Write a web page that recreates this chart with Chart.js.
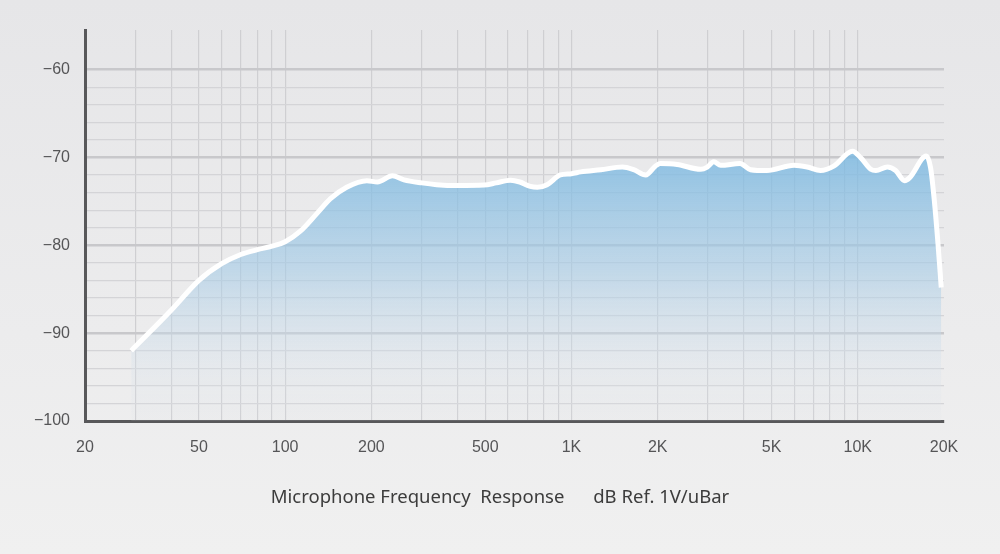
<!DOCTYPE html>
<html lang="en">
<head>
    <meta charset="UTF-8">
    <title>Microphone Frequency Response</title>
    <script src="https://cdn.jsdelivr.net/npm/chart.js"></script>
    <style>
        html, body {
            margin: 0;
            padding: 0;
        }
        body {
            width: 1000px;
            height: 554px;
            background: linear-gradient(180deg, #e6e6e8 0%, #ececed 60%, #f0f0f0 100%);
            overflow: hidden;
        }
        .wrap {
            position: relative;
            width: 1000px;
            height: 554px;
        }
        .caption {
            position: absolute;
            left: 0;
            width: 1000px;
            top: 483px;
            text-align: center;
            font-family: "Noto Sans", sans-serif;
            font-size: 18.5px;
            color: #3c3c3c;
            white-space: pre;
        }
    </style>
</head>
<body>
    <div class="wrap">
        <canvas id="freqChart"></canvas>
        <div class="caption">Microphone Frequency  Response      dB Ref. 1V/uBar</div>
    </div>

    <script>
        // frequency (Hz) and level (dB)
        const freqs = [29, 40, 50, 60, 70, 80, 90, 100, 113, 129, 144, 164, 193, 210, 237, 260,
            300, 338, 400, 495, 546, 612, 660, 718, 760, 822, 914, 1000, 1078, 1266, 1508, 1650,
            1817, 1962, 2040, 2340, 2824, 2980, 3140, 3320, 3880, 4220, 4810, 5990, 6660, 7410,
            8240, 9580, 10250, 11100, 11560, 12680, 13560, 14580, 15180, 17340, 17960, 18500,
            19050, 19560];
        const levels = [-92.0, -87.4, -84.0, -82.1, -81.05, -80.5, -80.1, -79.6, -78.4, -76.4,
            -74.7, -73.4, -72.65, -72.8, -72.1, -72.55, -72.9, -73.1, -73.2, -73.15, -72.9, -72.6,
            -72.8, -73.3, -73.4, -73.1, -72.0, -71.85, -71.65, -71.4, -71.1, -71.4, -72.0, -71.0,
            -70.7, -70.8, -71.35, -71.1, -70.5, -70.9, -70.7, -71.4, -71.5, -70.9, -71.1, -71.5,
            -71.0, -69.3, -70.05, -71.35, -71.5, -71.1, -71.5, -72.65, -72.3, -69.85, -71.2,
            -74.9, -79.75, -84.8];

        // x grid lines (1..9 per decade) and the ones that get a label
        const xGrid = [20, 30, 40, 50, 60, 70, 80, 90, 100, 200, 300, 400, 500, 600, 700, 800, 900,
            1000, 2000, 3000, 4000, 5000, 6000, 7000, 8000, 9000, 10000, 20000];
        const xLabels = {20: '20', 50: '50', 100: '100', 200: '200', 500: '500', 1000: '1K',
            2000: '2K', 5000: '5K', 10000: '10K', 20000: '20K'};
        const yGrid = [-100, -98, -96, -94, -92, -90, -88, -86, -84, -82, -80, -78, -76, -74, -72,
            -70, -68, -66, -64, -62, -60];

        const points = freqs.map((f, i) => ({ x: f, y: levels[i] }));

        function fillGradient(context) {
            const chart = context.chart;
            const area = chart.chartArea;
            if (!area) return 'rgba(140,195,228,0.7)';
            const y = chart.scales.y;
            const g = chart.ctx.createLinearGradient(0, y.getPixelForValue(-69), 0, area.bottom);
            g.addColorStop(0, 'rgba(118,182,224,0.82)');
            g.addColorStop(0.45, 'rgba(165,203,230,0.60)');
            g.addColorStop(0.8, 'rgba(215,226,236,0.32)');
            g.addColorStop(1, 'rgba(225,230,236,0.10)');
            return g;
        }

        const ctx = document.getElementById('freqChart').getContext('2d');
        new Chart(ctx, {
            type: 'line',
            data: {
                datasets: [{
                    data: points,
                    borderColor: '#ffffff',
                    borderWidth: 5,
                    pointRadius: 0,
                    cubicInterpolationMode: 'monotone',
                    fill: 'start',
                    backgroundColor: fillGradient
                }]
            },
            options: {
                responsive: true,
                maintainAspectRatio: false,
                animation: false,
                layout: { padding: { top: 30, right: 56, left: 0, bottom: 0 } },
                plugins: {
                    legend: { display: false },
                    tooltip: { enabled: false }
                },
                scales: {
                    x: {
                        type: 'logarithmic',
                        min: 20,
                        max: 20000,
                        afterBuildTicks: scale => { scale.ticks = xGrid.map(v => ({ value: v })); },
                        afterFit: scale => { scale.height = 133; },
                        border: { color: '#58585a', width: 3 },
                        grid: {
                            drawTicks: false,
                            color: c => (c.tick && (c.tick.value === 20 || c.tick.value === 20000)) ? 'rgba(0,0,0,0)' : '#cfcfd2',
                            lineWidth: 1.2
                        },
                        ticks: {
                            autoSkip: false,
                            maxRotation: 0,
                            padding: 17,
                            color: '#555557',
                            font: { family: 'Liberation Sans', size: 16 },
                            callback: v => xLabels[v] || ''
                        }
                    },
                    y: {
                        min: -100,
                        max: -55.5,
                        afterBuildTicks: scale => { scale.ticks = yGrid.map(v => ({ value: v })); },
                        afterFit: scale => { scale.width = 85; },
                        border: { color: '#58585a', width: 3 },
                        grid: {
                            drawTicks: false,
                            color: c => (c.tick && c.tick.value % 10 === 0) ? '#c8c8cb' : '#d4d4d7',
                            lineWidth: c => (c.tick && c.tick.value % 10 === 0) ? 2.6 : 1.2
                        },
                        ticks: {
                            autoSkip: false,
                            padding: 15,
                            color: '#555557',
                            font: { family: 'Liberation Sans', size: 16 },
                            callback: v => v % 10 === 0 ? '\u2212' + Math.abs(v) : ''
                        }
                    }
                }
            }
        });
    </script>
</body>
</html>
